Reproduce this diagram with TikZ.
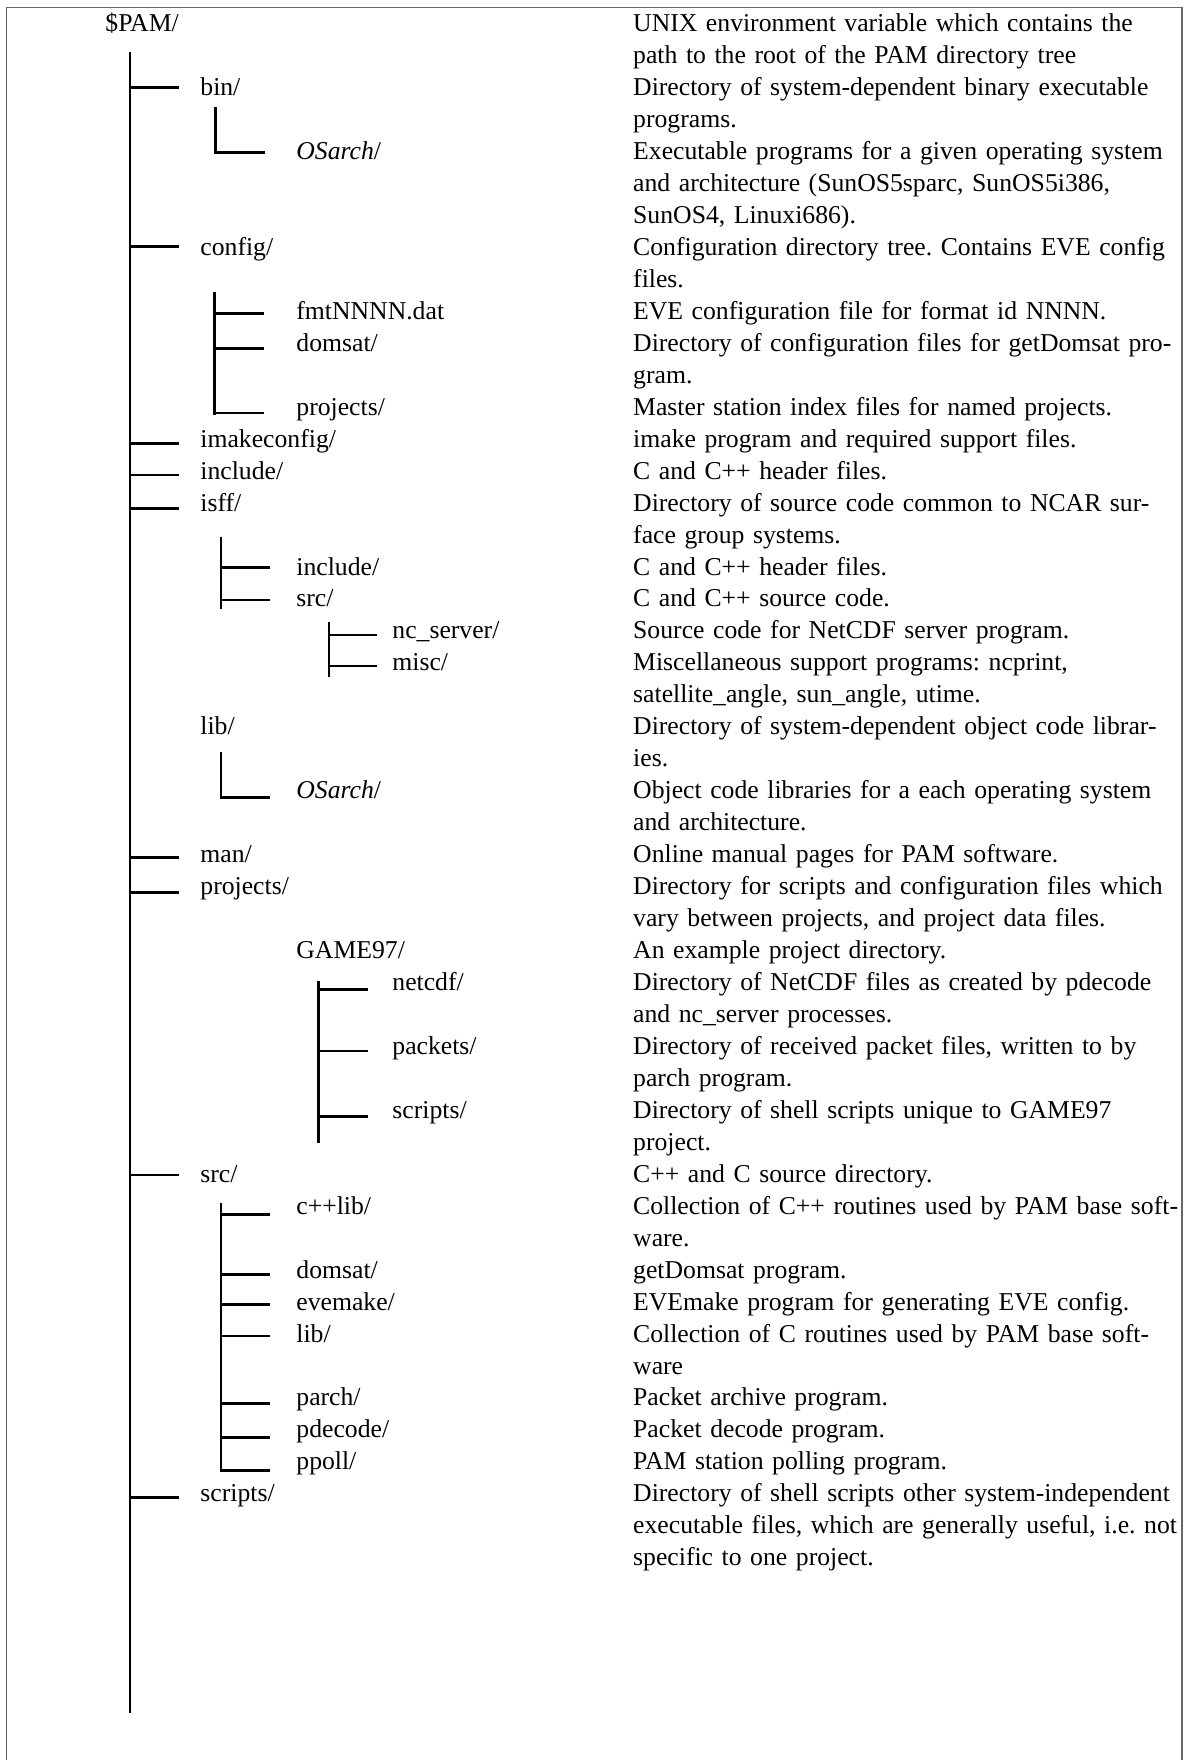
\documentclass[tikz,border=0pt]{standalone}
\usepackage{fontspec}
\setmainfont{Liberation Serif}
\newcommand\rowy[1]{31.7+31.96*#1}
\begin{document}
\frenchspacing
\begin{tikzpicture}[x=0.5pt,y=-0.5pt,
  lbl/.style={anchor=base west,inner sep=0pt,font=\fontsize{12.85}{15.98}\selectfont},
  desc/.style={anchor=base west,inner sep=0pt,text width=282pt,align=left,font=\fontsize{12.85}{15.98}\selectfont},
  tree/.style={line width=1.25pt,line cap=butt},
  framestyle/.style={draw=black!60,line width=0.65pt}]
\useasboundingbox (0,0) rectangle (1184,1760);
% frame (no bottom edge)
\coordinate (f-bl) at (6.3,1762);
\coordinate (f-tl) at (6.3,7.3);
\coordinate (f-tr) at (1182,7.3);
\coordinate (f-br) at (1182,1762);
\draw[framestyle] (f-bl) -- (f-tl) -- (f-tr) -- (f-br);

% ---------- left column labels ----------
\node[lbl] (pam) at (105,{\rowy{0}}) {\$PAM/};
\node[lbl] (bin) at (200,{\rowy{2}}) {bin/};
\node[lbl] (binos) at (296,{\rowy{4}}) {\textit{OSarch}/};
\node[lbl] (config) at (200,{\rowy{7}}) {config/};
\node[lbl] (fmt) at (296,{\rowy{9}}) {fmtNNNN.dat};
\node[lbl] (cdomsat) at (296,{\rowy{10}}) {domsat/};
\node[lbl] (cproj) at (296,{\rowy{12}}) {projects/};
\node[lbl] (imake) at (200,{\rowy{13}}) {imakeconfig/};
\node[lbl] (incl) at (200,{\rowy{14}}) {include/};
\node[lbl] (isff) at (200,{\rowy{15}}) {isff/};
\node[lbl] (iincl) at (296,{\rowy{17}}) {include/};
\node[lbl] (isrc) at (296,{\rowy{18}}) {src/};
\node[lbl] (ncs) at (392,{\rowy{19}}) {nc\_server/};
\node[lbl] (misc) at (392,{\rowy{20}}) {misc/};
\node[lbl] (lib) at (200,{\rowy{22}}) {lib/};
\node[lbl] (libos) at (296,{\rowy{24}}) {\textit{OSarch}/};
\node[lbl] (man) at (200,{\rowy{26}}) {man/};
\node[lbl] (proj) at (200,{\rowy{27}}) {projects/};
\node[lbl] (game) at (296,{\rowy{29}}) {GAME97/};
\node[lbl] (netcdf) at (392,{\rowy{30}}) {netcdf/};
\node[lbl] (packets) at (392,{\rowy{32}}) {packets/};
\node[lbl] (gscripts) at (392,{\rowy{34}}) {scripts/};
\node[lbl] (src) at (200,{\rowy{36}}) {src/};
\node[lbl] (cpplib) at (296,{\rowy{37}}) {c++lib/};
\node[lbl] (sdomsat) at (296,{\rowy{39}}) {domsat/};
\node[lbl] (evemake) at (296,{\rowy{40}}) {evemake/};
\node[lbl] (slib) at (296,{\rowy{41}}) {lib/};
\node[lbl] (parch) at (296,{\rowy{43}}) {parch/};
\node[lbl] (pdecode) at (296,{\rowy{44}}) {pdecode/};
\node[lbl] (ppoll) at (296,{\rowy{45}}) {ppoll/};
\node[lbl] (scripts) at (200,{\rowy{46}}) {scripts/};

% ---------- right column descriptions ----------
\node[desc] (d-pam) at (632.8,{\rowy{0}}) {UNIX environment variable which contains the\\path to the root of the PAM directory tree};
\node[desc] (d-bin) at (632.8,{\rowy{2}}) {Directory of system-dependent binary executable\\programs.};
\node[desc] (d-binos) at (632.8,{\rowy{4}}) {Executable programs for a given operating system\\and architecture (SunOS5sparc, SunOS5i386,\\SunOS4, Linuxi686).};
\node[desc] (d-config) at (632.8,{\rowy{7}}) {Configuration directory tree. Contains EVE config\\files.};
\node[desc] (d-fmt) at (632.8,{\rowy{9}}) {EVE configuration file for format id NNNN.};
\node[desc] (d-cdomsat) at (632.8,{\rowy{10}}) {Directory of configuration files for getDomsat pro-\\gram.};
\node[desc] (d-cproj) at (632.8,{\rowy{12}}) {Master station index files for named projects.};
\node[desc] (d-imake) at (632.8,{\rowy{13}}) {imake program and required support files.};
\node[desc] (d-incl) at (632.8,{\rowy{14}}) {C and C++ header files.};
\node[desc] (d-isff) at (632.8,{\rowy{15}}) {Directory of source code common to NCAR sur-\\face group systems.};
\node[desc] (d-iincl) at (632.8,{\rowy{17}}) {C and C++ header files.};
\node[desc] (d-isrc) at (632.8,{\rowy{18}}) {C and C++ source code.};
\node[desc] (d-ncs) at (632.8,{\rowy{19}}) {Source code for NetCDF server program.};
\node[desc] (d-misc) at (632.8,{\rowy{20}}) {Miscellaneous support programs: ncprint,\\satellite\_angle, sun\_angle, utime.};
\node[desc] (d-lib) at (632.8,{\rowy{22}}) {Directory of system-dependent object code librar-\\ies.};
\node[desc] (d-libos) at (632.8,{\rowy{24}}) {Object code libraries for a each operating system\\and architecture.};
\node[desc] (d-man) at (632.8,{\rowy{26}}) {Online manual pages for PAM software.};
\node[desc] (d-proj) at (632.8,{\rowy{27}}) {Directory for scripts and configuration files which\\vary between projects, and project data files.};
\node[desc] (d-game) at (632.8,{\rowy{29}}) {An example project directory.};
\node[desc] (d-netcdf) at (632.8,{\rowy{30}}) {Directory of NetCDF files as created by pdecode\\and nc\_server processes.};
\node[desc] (d-packets) at (632.8,{\rowy{32}}) {Directory of received packet files, written to by\\parch program.};
\node[desc] (d-gscripts) at (632.8,{\rowy{34}}) {Directory of shell scripts unique to GAME97\\project.};
\node[desc] (d-src) at (632.8,{\rowy{36}}) {C++ and C source directory.};
\node[desc] (d-cpplib) at (632.8,{\rowy{37}}) {Collection of C++ routines used by PAM base soft-\\ware.};
\node[desc] (d-sdomsat) at (632.8,{\rowy{39}}) {getDomsat program.};
\node[desc] (d-evemake) at (632.8,{\rowy{40}}) {EVEmake program for generating EVE config.};
\node[desc] (d-slib) at (632.8,{\rowy{41}}) {Collection of C routines used by PAM base soft-\\ware};
\node[desc] (d-parch) at (632.8,{\rowy{43}}) {Packet archive program.};
\node[desc] (d-pdecode) at (632.8,{\rowy{44}}) {Packet decode program.};
\node[desc] (d-ppoll) at (632.8,{\rowy{45}}) {PAM station polling program.};
\node[desc] (d-scripts) at (632.8,{\rowy{46}}) {Directory of shell scripts other system-independent\\executable files, which are generally useful, i.e. not\\specific to one project.};

% ---------- tree lines ----------
% main trunk
\coordinate (m-top) at (130,51.7);
\coordinate (m-bot) at (130,1713.3);
\draw[tree] (m-top) -- (m-bot);
\foreach \n/\y in {bin/87.3,config/246.7,imake/443.3,incl/475,isff/508.3,man/857.3,proj/892.3,src/1175,scripts/1497.3}{
  \coordinate (h1-\n) at (178.5,\y);
  \draw[tree] (h1-\n -| m-top) -- (h1-\n);
}
% bin/ -> OSarch/
\coordinate (bs-top) at (215.5,106.7);
\coordinate (bs-bot) at (215.5,154);
\coordinate (bs-e1) at (264.8,152.3);
\draw[tree] (bs-top) -- (bs-bot);
\draw[tree] (bs-e1 -| bs-top) -- (bs-e1);
% config/
\coordinate (cs-top) at (214.3,292.3);
\coordinate (cs-bot) at (214.3,415);
\draw[tree] (cs-top) -- (cs-bot);
\foreach \n/\y in {1/313.3,2/348.3,3/412.8}{
  \coordinate (cs-e\n) at (263.5,\y);
  \draw[tree] (cs-e\n -| cs-top) -- (cs-e\n);
}
% isff/
\coordinate (is-top) at (220.8,536.7);
\coordinate (is-bot) at (220.8,609.3);
\draw[tree] (is-top) -- (is-bot);
\foreach \n/\y in {1/567.3,2/600}{
  \coordinate (is-e\n) at (269.8,\y);
  \draw[tree] (is-e\n -| is-top) -- (is-e\n);
}
% isff/src/
\coordinate (ss-top) at (329,622.3);
\coordinate (ss-bot) at (329,677.3);
\draw[tree] (ss-top) -- (ss-bot);
\foreach \n/\y in {1/635,2/666}{
  \coordinate (ss-e\n) at (376.5,\y);
  \draw[tree] (ss-e\n -| ss-top) -- (ss-e\n);
}
% lib/ -> OSarch/
\coordinate (ls-top) at (220.8,752.3);
\coordinate (ls-bot) at (220.8,799.3);
\coordinate (ls-e1) at (269.8,797.3);
\draw[tree] (ls-top) -- (ls-bot);
\draw[tree] (ls-e1 -| ls-top) -- (ls-e1);
% GAME97/
\coordinate (gs-top) at (318.4,981);
\coordinate (gs-bot) at (318.4,1142.7);
\draw[tree] (gs-top) -- (gs-bot);
\foreach \n/\y in {1/989.3,2/1051,3/1116.7}{
  \coordinate (gs-e\n) at (367.5,\y);
  \draw[tree] (gs-e\n -| gs-top) -- (gs-e\n);
}
% src/
\coordinate (rs-top) at (220.8,1202.7);
\coordinate (rs-bot) at (220.8,1472);
\draw[tree] (rs-top) -- (rs-bot);
\foreach \n/\y in {1/1214.3,2/1274.3,3/1304.3,4/1336,5/1403.3,6/1437.7,7/1470.5}{
  \coordinate (rs-e\n) at (269.8,\y);
  \draw[tree] (rs-e\n -| rs-top) -- (rs-e\n);
}
\end{tikzpicture}
\end{document}
